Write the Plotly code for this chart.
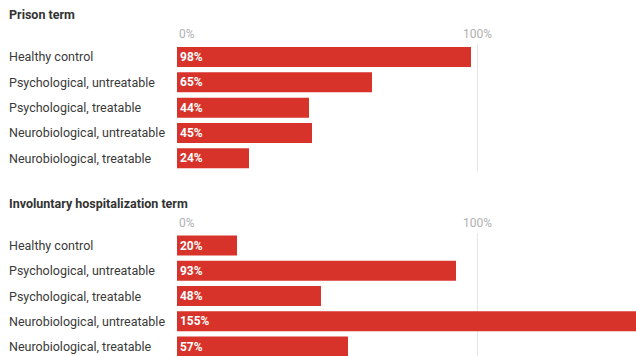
import plotly.graph_objects as go

categories = ["Healthy control", "Psychological, untreatable", "Psychological, treatable",
              "Neurobiological, untreatable", "Neurobiological, treatable"]
prison_values = [98, 65, 44, 45, 24]
hospital_values = [20, 93, 48, 155, 57]
panel_titles = ["Prison term", "Involuntary hospitalization term"]
tick_values = [0, 100]
tick_labels = ["0%", "100%"]

W, H = 636, 356
BAR = "#d7332a"
FONT = "Roboto, Arial, sans-serif"

def py(px):
    return 1 - px / H

fig = go.Figure()
fig.add_trace(go.Bar(y=categories, x=prison_values, orientation="h", xaxis="x", yaxis="y",
                     marker=dict(color=BAR, line=dict(width=0)), width=0.79,
                     text=[f"{v}%" for v in prison_values], textposition="inside",
                     insidetextanchor="start", textangle=0,
                     textfont=dict(color="white", size=12, family=FONT, weight="bold"),
                     hoverinfo="skip", cliponaxis=True))
fig.add_trace(go.Bar(y=categories, x=hospital_values, orientation="h", xaxis="x2", yaxis="y2",
                     marker=dict(color=BAR, line=dict(width=0)), width=0.79,
                     text=[f"{v}%" for v in hospital_values], textposition="inside",
                     insidetextanchor="start", textangle=0,
                     textfont=dict(color="white", size=12, family=FONT, weight="bold"),
                     hoverinfo="skip", cliponaxis=True))

x0 = 177 / W
xrange = [0, (W - 177) / 3.0]
axis_common = dict(range=xrange, domain=[x0, 1], showticklabels=False, tickvals=tick_values,
                   showgrid=True, gridcolor="#e6e6e6", gridwidth=1, zeroline=False,
                   showline=False, ticks="", fixedrange=True)
fig.update_layout(
    width=W, height=H, margin=dict(l=0, r=0, t=0, b=0),
    paper_bgcolor="white", plot_bgcolor="white", showlegend=False, bargap=0.2,
    font=dict(family=FONT),
    xaxis=dict(anchor="y", **axis_common),
    xaxis2=dict(anchor="y2", **axis_common),
    yaxis=dict(domain=[py(171), py(44.3)], range=[4.5, -0.5], showticklabels=False,
               showgrid=False, zeroline=False, fixedrange=True, type="category",
               categoryorder="array", categoryarray=categories),
    yaxis2=dict(domain=[0, py(232.9)], range=[4.375, -0.5], showticklabels=False,
                showgrid=False, zeroline=False, fixedrange=True, type="category",
                categoryorder="array", categoryarray=categories),
)

ann = []
# panel titles
for title, ypx in zip(panel_titles, [14.5, 203.5]):
    ann.append(dict(text=f"<b>{title}</b>", xref="paper", yref="paper", x=7 / W, y=py(ypx),
                    xanchor="left", yanchor="middle", showarrow=False,
                    font=dict(size=12.5, color="#333333", family=FONT)))
# tick labels
for xa, ypx in [("x", 34), ("x2", 223)]:
    for v, lab in zip(tick_values, tick_labels):
        ann.append(dict(text=lab, xref=xa, yref="paper", x=v, y=py(ypx),
                        xanchor="left" if v == 0 else "center", yanchor="middle",
                        showarrow=False, font=dict(size=12, color="#b0b0b0", family=FONT)))
# category labels
for ya in ["y", "y2"]:
    for c in categories:
        ann.append(dict(text=c, xref="paper", yref=ya, x=7 / W, y=c, xanchor="left",
                        yanchor="middle", showarrow=False,
                        font=dict(size=12.5, color="#3a3a3a", family=FONT)))
fig.update_layout(annotations=ann)

fig.write_html("out.html")
